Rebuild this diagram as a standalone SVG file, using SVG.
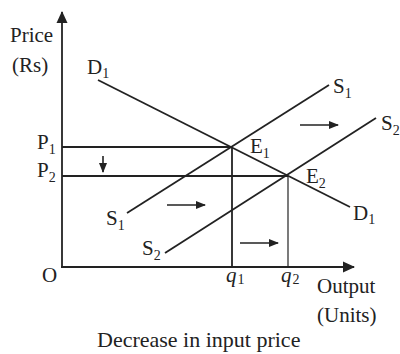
<svg xmlns="http://www.w3.org/2000/svg" width="400" height="354" viewBox="0 0 400 354">
<style>
text{font-family:"Liberation Serif","Times New Roman",serif;font-size:21px;fill:#222}
.sub{font-size:14px}
.ln{stroke:#222;stroke-width:1.8;fill:none}
.thin{stroke:#222;stroke-width:1.2;fill:none}
.ar{stroke:#222;stroke-width:1.6;fill:none;marker-end:url(#ah)}
</style>
<defs>
<marker id="ah" markerWidth="10" markerHeight="8" refX="9" refY="4" orient="auto" markerUnits="userSpaceOnUse">
<path d="M0,0 L10,4 L0,8 Z" fill="#222"/>
</marker>
<marker id="axh" markerWidth="12" markerHeight="12" refX="11" refY="6" orient="auto" markerUnits="userSpaceOnUse">
<path d="M0,0.5 L12,6 L0,11.5 Z" fill="#222"/>
</marker>
</defs>
<g id="axes">
<line class="ln" x1="62" y1="268" x2="62" y2="12" marker-end="url(#axh)" stroke-width="2"/>
<line class="ln" x1="61" y1="267" x2="354" y2="267" marker-end="url(#axh)" stroke-width="2"/>
</g>
<g id="connectors">
<line class="ln" x1="98" y1="80" x2="350" y2="207"/>
<line class="ln" x1="127" y1="213" x2="329" y2="85"/>
<line class="ln" x1="165" y1="253" x2="376" y2="118"/>
<line class="ln" x1="62" y1="147" x2="232" y2="147"/>
<line class="ln" x1="62" y1="176" x2="288" y2="176"/>
<line class="ln" x1="232" y1="147" x2="232" y2="267"/>
<line class="thin" x1="288" y1="176" x2="288" y2="267"/>
<line class="ar" x1="103" y1="156" x2="103" y2="172" stroke-width="1.2"/>
<line class="ar" x1="300" y1="125" x2="338" y2="125"/>
<line class="ar" x1="167" y1="205" x2="205" y2="205"/>
<line class="ar" x1="240" y1="243" x2="278" y2="243"/>
</g>
<g id="labels">
<text x="10" y="42">Price</text>
<text x="12" y="72">(Rs)</text>
<text x="87" y="74">D<tspan class="sub" dy="4">1</tspan></text>
<text x="37" y="149">P<tspan class="sub" dy="5">1</tspan></text>
<text x="37" y="177">P<tspan class="sub" dy="5">2</tspan></text>
<text x="250" y="153">E<tspan class="sub" dy="5">1</tspan></text>
<text x="306" y="183">E<tspan class="sub" dy="5">2</tspan></text>
<text x="333" y="93">S<tspan class="sub" dy="5">1</tspan></text>
<text x="381" y="130">S<tspan class="sub" dy="5">2</tspan></text>
<text x="106" y="225">S<tspan class="sub" dy="5">1</tspan></text>
<text x="142" y="255">S<tspan class="sub" dy="5">2</tspan></text>
<text x="353" y="220">D<tspan class="sub" dy="4">1</tspan></text>
<text x="42" y="282">O</text>
<text x="226" y="282" font-style="italic">q<tspan class="sub" font-style="normal" dx="1" dy="2">1</tspan></text>
<text x="281" y="282" font-style="italic">q<tspan class="sub" font-style="normal" dx="1" dy="2">2</tspan></text>
<text x="317" y="293">Output</text>
<text x="317" y="322">(Units)</text>
<text x="97" y="347" style="font-size:22px">Decrease in input price</text>
</g>
</svg>
